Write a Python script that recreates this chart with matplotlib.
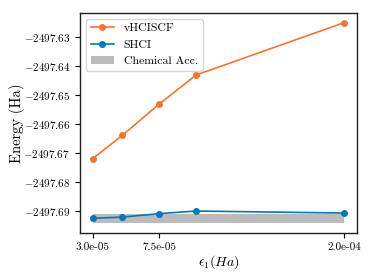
import numpy as np
import matplotlib
matplotlib.use('Agg')
import matplotlib.pyplot as plt

plt.rcParams['font.family'] = 'serif'
plt.rcParams['font.serif'] = ['cmr10']
plt.rcParams['mathtext.fontset'] = 'cm'
plt.rcParams['axes.formatter.use_mathtext'] = True
plt.rcParams['font.size'] = 8

# Datos
eps1 = [3.0e-05, 5.0e-05, 7.5e-05, 1.0e-04, 2.0e-04]
e_vhciscf = [-2497.6720, -2497.6640, -2497.6532, -2497.6432, -2497.6252]
e_shci = [-2497.6925, -2497.6921, -2497.6909, -2497.6900, -2497.6907]
chem_centro = -2497.6925
chem_acc = 0.0016
xticks = [3.0e-05, 7.5e-05, 2.0e-04]
xticklabels = ['3.0e-05', '7.5e-05', '2.0e-04']

naranja = '#EE7733'
azul = '#0077BB'
gris = '#BBBBBB'

fig = plt.figure(figsize=(3.74, 2.8), dpi=100)
ax = fig.add_axes([0.214, 0.168, 0.74, 0.787])
ax.plot(eps1, e_vhciscf, '-o', color=naranja, lw=1.2, ms=4, label='vHCISCF')
ax.plot(eps1, e_shci, '-o', color=azul, lw=1.2, ms=4, label='SHCI')
ax.fill_between([eps1[0], eps1[-1]], chem_centro - chem_acc, chem_centro + chem_acc,
                color=gris, lw=0, label='Chemical Acc.')
ax.set_xticks(xticks)
ax.set_xticklabels(xticklabels)
ax.ticklabel_format(axis='y', useOffset=False)
ax.set_xlabel(r'$\epsilon_1 (Ha)$', fontsize=10, labelpad=1)
ax.set_ylabel('Energy (Ha)', fontsize=10.5, labelpad=-1)
ax.legend(loc='upper left', fontsize=8.5)
for s in ax.spines.values():
    s.set_linewidth(1.0)
    s.set_color('#222222')
fig.savefig('out.png', dpi=100)
